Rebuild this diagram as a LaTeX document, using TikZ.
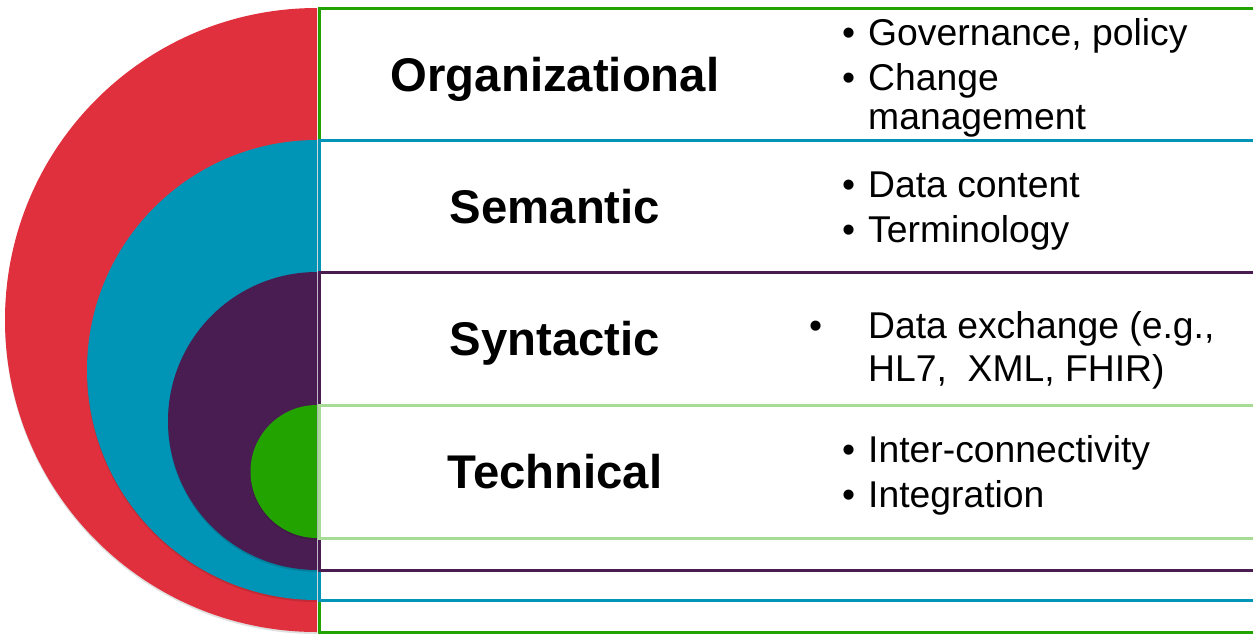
\documentclass[tikz,border=0pt]{standalone}
\usepackage{fontspec}
\setmainfont{Liberation Sans}
\definecolor{cred}{HTML}{E0303D}
\definecolor{cblue}{HTML}{0094B6}
\definecolor{cpurple}{HTML}{4A1D52}
\definecolor{cgreen}{HTML}{22A300}
\definecolor{clgreen}{HTML}{A6DC96}
\begin{document}
\begin{tikzpicture}[x=1pt,y=-1pt,
  lbl/.style={font=\fontsize{47.3}{50}\selectfont\bfseries, anchor=base, inner sep=0pt},
  item/.style={font=\fontsize{37.3}{40}\selectfont, anchor=base west, inner sep=0pt},
  band/.style={fill=white, line width=3pt},
  shade/.style={fill=black, opacity=0.12}]
\useasboundingbox (0,0) rectangle (1253,633);
\begin{scope}
\clip (0,0) rectangle (1253,633);
\draw[band, draw=cgreen] (319,8) rectangle (1300,632);
\draw[band, draw=cblue] (319,140) rectangle (1300,600);
\draw[band, draw=cpurple] (319,272) rectangle (1300,570);
\draw[band, draw=clgreen] (319,405) rectangle (1300,538);
\end{scope}
% half discs with faint shadows
\fill[shade] (317,10) arc[start angle=270, end angle=90, radius=312] -- cycle;
\fill[cred] (317,8) arc[start angle=270, end angle=90, radius=312] -- cycle;
\fill[shade] (317,142) arc[start angle=270, end angle=90, radius=230] -- cycle;
\fill[cblue] (317,140) arc[start angle=270, end angle=90, radius=230] -- cycle;
\fill[shade] (317,274) arc[start angle=270, end angle=90, radius=149] -- cycle;
\fill[cpurple] (317,272) arc[start angle=270, end angle=90, radius=149] -- cycle;
\fill[shade] (317,407) arc[start angle=270, end angle=90, radius=66.5] -- cycle;
\fill[cgreen] (317,405) arc[start angle=270, end angle=90, radius=66.5] -- cycle;
% labels
\node[lbl] (org) at (555,91) {Organizational};
\node[lbl] (sem) at (555,223) {Semantic};
\node[lbl] (syn) at (555,355) {Syntactic};
\node[lbl] (tec) at (555,488) {Technical};
% bullets
\node[item] (b1) at (842,45) {•};
\node[item] (t1) at (868,45) {Governance, policy};
\node[item] (b2) at (842,90) {•};
\node[item] (t2) at (868,90) {Change};
\node[item] (t2b) at (868,129) {management};
\node[item] (b3) at (842,197) {•};
\node[item] (t3) at (868,197) {Data content};
\node[item] (b4) at (842,242) {•};
\node[item] (t4) at (868,242) {Terminology};
\node[item] (b5) at (809,338) {•};
\node[item] (t5) at (868,338) {Data exchange (e.g.,};
\node[item] (t5b) at (868,381) {HL7,\ \ XML, FHIR)};
\node[item] (b6) at (842,462) {•};
\node[item] (t6) at (868,462) {Inter-connectivity};
\node[item] (b7) at (842,507) {•};
\node[item] (t7) at (868,507) {Integration};
\end{tikzpicture}
\end{document}
